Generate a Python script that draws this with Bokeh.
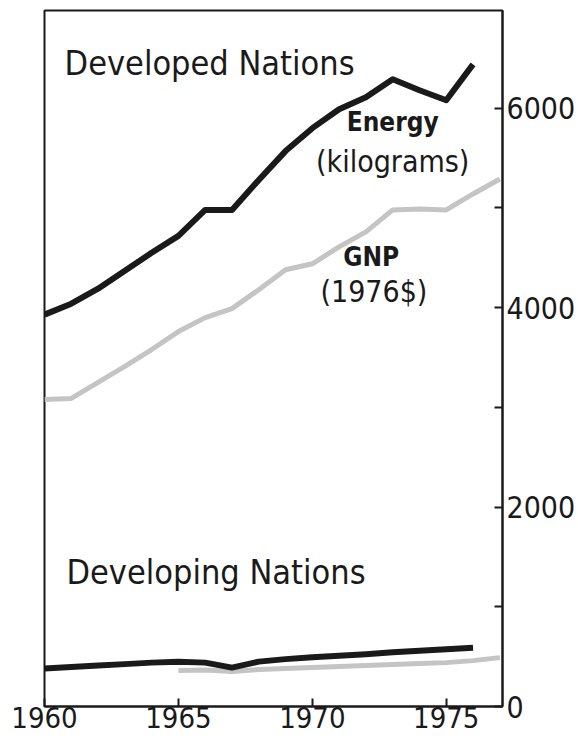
from bokeh.plotting import figure
from bokeh.models import Range1d, FixedTicker, Label
from bokeh.embed import file_html
from bokeh.resources import INLINE

# ---- data ----
years = list(range(1960, 1977))                      # 1960..1976
developed_energy = [3930, 4040, 4190, 4370, 4550, 4720, 4980, 4980, 5280,
                    5570, 5800, 5990, 6110, 6290, 6180, 6080, 6440]
gnp_years = list(range(1960, 1978))                  # 1960..1977
developed_gnp = [3080, 3090, 3250, 3410, 3580, 3760, 3900, 3990, 4180,
                 4380, 4440, 4610, 4760, 4980, 4990, 4980, 5140, 5290]
developing_energy = [380, 395, 410, 425, 440, 450, 440, 390, 450,
                     475, 495, 510, 525, 545, 560, 575, 590]
developing_gnp_years = list(range(1965, 1978))
developing_gnp = [360, 365, 350, 370, 380, 390, 400, 410, 420, 430, 440, 460, 490]

x_ticks = [1960, 1965, 1970, 1975]
y_ticks = [0, 2000, 4000, 6000]
y_minor_ticks = [1000, 3000, 5000]

FONT = "'DejaVu Sans Condensed', 'Liberation Sans Narrow', Roboto, sans-serif"
BLACK = "#1a1a1a"
GRAY = "#c4c4c4"

p = figure(width=578, height=740, x_range=Range1d(1960, 1977.1),
           y_range=Range1d(0, 6980), y_axis_location="right",
           output_backend="svg", toolbar_location=None)
p.min_border_left = 44
p.min_border_right = 76
p.min_border_top = 10
p.min_border_bottom = 34
p.background_fill_color = "white"
p.border_fill_color = "white"
p.outline_line_color = BLACK
p.outline_line_width = 2
p.xgrid.visible = False
p.ygrid.visible = False

xa = p.xaxis[0]
xa.ticker = FixedTicker(ticks=x_ticks)
xa.major_tick_in = 8
xa.major_tick_out = 0
xa.minor_tick_line_color = None
xa.axis_line_width = 2
xa.axis_line_color = BLACK
xa.major_tick_line_width = 2
xa.major_tick_line_color = BLACK
xa.major_label_text_font = FONT
xa.major_label_text_font_size = "29px"
xa.major_label_text_color = BLACK
xa.major_label_standoff = 0

ya = p.yaxis[0]
ya.ticker = FixedTicker(ticks=y_ticks, minor_ticks=y_minor_ticks)
ya.major_tick_in = 8
ya.major_tick_out = 0
ya.minor_tick_in = 8
ya.minor_tick_out = 0
ya.axis_line_width = 2
ya.axis_line_color = BLACK
ya.major_tick_line_width = 2
ya.minor_tick_line_width = 2
ya.major_tick_line_color = BLACK
ya.minor_tick_line_color = BLACK
ya.major_label_text_font = FONT
ya.major_label_text_font_size = "30px"
ya.major_label_text_color = BLACK
ya.major_label_standoff = 4

# ---- lines ----
p.line(gnp_years, developed_gnp, line_color=GRAY, line_width=5, line_join="round")
p.line(years, developed_energy, line_color=BLACK, line_width=6, line_join="round")
p.line(developing_gnp_years, developing_gnp, line_color=GRAY, line_width=5, line_join="round")
p.line(years, developing_energy, line_color=BLACK, line_width=6, line_join="round")

# ---- labels ----
def lab(x, y, text, size, bold=False, align="left"):
    p.add_layout(Label(x=x, y=y, text=text, text_font=FONT, text_font_size=size,
                       text_font_style="bold" if bold else "normal",
                       text_color=BLACK, text_align=align,
                       text_baseline="alphabetic"))

lab(1960.75, 6450, "Developed Nations", "34px")
lab(1960.82, 1350, "Developing Nations", "34px")
lab(1973.0, 5860, "Energy", "26px", bold=True, align="center")
lab(1973.0, 5470, "(kilograms)", "30px", align="center")
lab(1972.2, 4510, "GNP", "26px", bold=True, align="center")
lab(1972.3, 4160, "(1976$)", "30px", align="center")

open("out.html", "w").write(file_html(p, INLINE))
